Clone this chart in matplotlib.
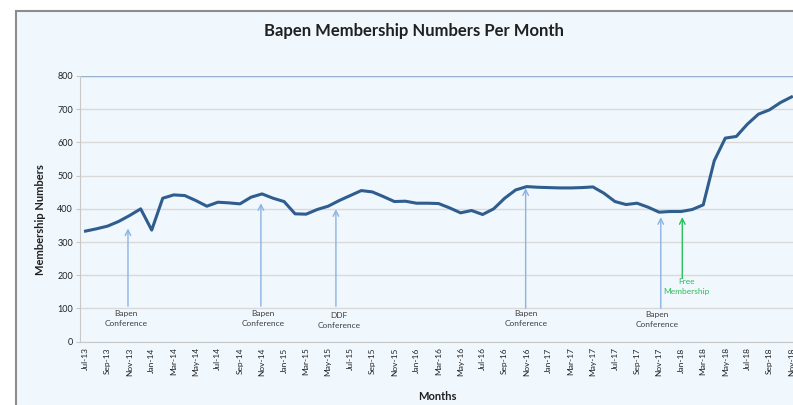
import matplotlib.pyplot as plt
from matplotlib.patches import Rectangle
import numpy as np

# monthly members, Jul-13 .. Nov-18
month_names = ['Jan', 'Feb', 'Mar', 'Apr', 'May', 'Jun',
               'Jul', 'Aug', 'Sep', 'Oct', 'Nov', 'Dec']
months = []
for yr in range(13, 19):
    for m in month_names:
        months.append(f'{m}-{yr}')
months = months[6:6 + 65]

members = [333, 340, 348, 362, 380, 400, 336, 432, 442, 440,
           425, 408, 420, 418, 415, 435, 445, 432, 422, 385,
           384, 398, 408, 425, 440, 455, 451, 437, 422, 423,
           417, 417, 416, 403, 388, 395, 383, 400, 432, 457,
           467, 465, 464, 463, 463, 464, 466, 447, 422, 413,
           417, 405, 390, 392, 392, 398, 412, 545, 613, 618,
           655, 685, 698, 720, 737]

# (arrow x in months, arrow head y, arrow tail y, text x, text y, label, colour)
events = [
    (3.85, 341, 107, 3.7, 70, 'Bapen\nConference', '#8DB3E2'),
    (15.9, 417, 107, 16.1, 70, 'Bapen\nConference', '#8DB3E2'),
    (22.7, 399, 107, 23.0, 65, 'DDF\nConference', '#8DB3E2'),
    (39.9, 462, 101, 39.9, 70, 'Bapen\nConference', '#8DB3E2'),
    (52.15, 375, 101, 51.8, 68, 'Bapen\nConference', '#8DB3E2'),
    (54.1, 375, 191, 54.5, 167, 'Free\nMembership', '#2DBE5A'),
]

bg = '#F0F7FD'
fig = plt.figure(figsize=(7.93, 4.05), dpi=100)
fig.patch.set_facecolor('white')
# chart frame (runs off the right/bottom edge like the screenshot)
fig.patches.append(Rectangle((16 / 793, -0.05), 1.0, (405 - 11) / 405 + 0.05,
                             transform=fig.transFigure, facecolor=bg,
                             edgecolor='#8C8C8C', linewidth=1.5, zorder=-5))

ax = fig.add_axes([80 / 793, (405 - 341.7) / 405, 717 / 793, 265.7 / 405])
ax.set_facecolor(bg)
x = np.arange(len(months))
ax.plot(x, members, color='#2F5D8E', linewidth=2.2, zorder=3)

ax.set_xlim(-0.5, len(months) - 0.5)
ax.set_ylim(0, 800)
ax.set_yticks(range(0, 801, 100))
ax.set_xticks(x[::2])
ax.set_xticklabels(months[::2], rotation=90, fontsize=6, color='#222222',
                   fontfamily='Lato')
for lbl in ax.get_yticklabels():
    lbl.set_fontsize(6.5)
    lbl.set_color('#222222')
    lbl.set_fontfamily('Lato')

ax.grid(axis='y', color='#D9D9D9', linewidth=1.0, zorder=1)
ax.axhline(800, color='#9BB2CF', linewidth=1.0, zorder=2)
for s in ['top', 'right']:
    ax.spines[s].set_visible(False)
ax.spines['left'].set_color('#C8C8C8')
ax.spines['bottom'].set_color('#C8C8C8')
ax.tick_params(axis='y', length=3, color='#C8C8C8', pad=2)
ax.tick_params(axis='x', length=0, pad=4)

ax.set_ylabel('Membership Numbers', fontsize=8, fontweight='bold',
              fontfamily='Lato', color='#202020')
ax.yaxis.set_label_coords(-0.047, 0.46)
ax.set_xlabel('Months', fontsize=8, fontweight='bold', fontfamily='Lato',
              color='#202020')
ax.xaxis.set_label_coords((437 - 80) / 717, -0.185)

fig.text(414 / 793, 1 - 31 / 405, 'Bapen Membership Numbers Per Month',
         ha='center', va='center', fontsize=12, fontweight='bold',
         fontfamily='Lato', color='#202020')

for ax_x, head, tail, tx, ty, label, col in events:
    ax.annotate('', xy=(ax_x, head), xytext=(ax_x, tail),
                arrowprops=dict(arrowstyle='->', color=col, lw=1.0,
                                shrinkA=0, shrinkB=0), zorder=2)
    tcol = '#404040' if col != '#2DBE5A' else col
    ax.text(tx, ty, label, ha='center', va='center', fontsize=6,
            color=tcol, fontfamily='Lato', linespacing=1.5)

plt.savefig('out.png', dpi=100, facecolor='white')
